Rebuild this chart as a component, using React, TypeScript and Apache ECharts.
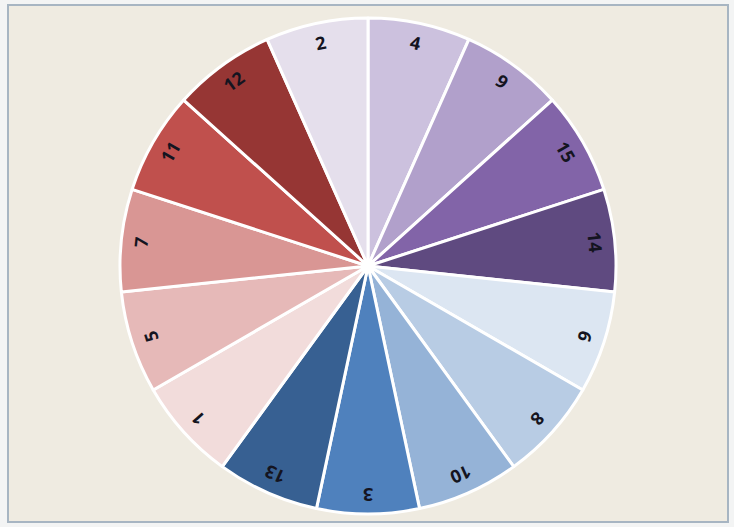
import React, { useEffect, useRef } from "react";
import * as echarts from "echarts";

const categories = ["4", "9", "15", "14", "6", "8", "10", "3", "13", "1", "5", "7", "11", "12", "2"];
const values = [1, 1, 1, 1, 1, 1, 1, 1, 1, 1, 1, 1, 1, 1, 1];
const colors = [
  "#ccc1de", "#b1a0cb", "#8264a8", "#5f4a80", "#dce6f2", "#b8cce4", "#95b3d7", "#4f81bd",
  "#376092", "#f2dcdb", "#e6b9b8", "#d99694", "#c0504d", "#963634", "#e5dfec",
];

export default function App() {
  const ref = useRef<HTMLDivElement>(null);
  useEffect(() => {
    if (!ref.current) return;
    const chart = echarts.init(ref.current, null, { renderer: "svg" });
    const total = values.reduce((a, b) => a + b, 0);
    let cum = 0;
    const rotations = values.map((v) => {
      const mid = ((cum + v / 2) / total) * 360;
      cum += v;
      return -mid;
    });
    const center = [368, 266];
    chart.setOption({
      animation: false,
      backgroundColor: "#f3f4f4",
      graphic: [
        {
          type: "rect",
          shape: { x: 8, y: 5, width: 720, height: 517 },
          style: { fill: "#efebe1", stroke: "#a7b5c2", lineWidth: 2 },
          z: -10,
          silent: true,
        },
      ],
      series: [
        {
          type: "pie",
          center,
          radius: 248,
          startAngle: 90,
          clockwise: true,
          silent: true,
          label: { show: false },
          labelLine: { show: false },
          itemStyle: { borderColor: "#ffffff", borderWidth: 3 },
          data: categories.map((c, i) => ({
            name: c,
            value: values[i],
            itemStyle: { color: colors[i] },
          })),
        },
        {
          type: "pie",
          center,
          radius: [203, 248],
          startAngle: 90,
          clockwise: true,
          silent: true,
          emphasis: { disabled: true },
          labelLine: { show: false },
          itemStyle: { color: "transparent", borderWidth: 0 },
          label: {
            show: true,
            position: "inside",
            formatter: "{b}",
            color: "#141420",
            fontSize: 18,
            fontWeight: "bold",
            fontFamily: "Open Sans",
          },
          data: categories.map((c, i) => ({
            name: c,
            value: values[i],
            label: { rotate: rotations[i] },
          })),
        },
      ],
    });
    return () => chart.dispose();
  }, []);
  return (
    <div
      ref={ref}
      style={{ position: "fixed", left: 0, top: 0, width: 734, height: 527 }}
    />
  );
}
